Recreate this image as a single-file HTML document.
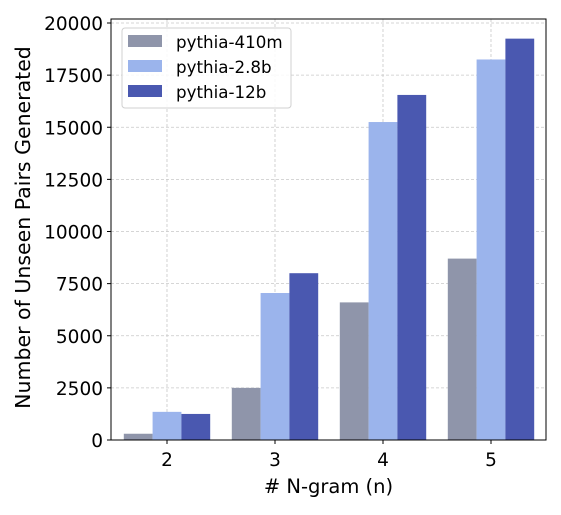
<!DOCTYPE html>
<html><head><meta charset="utf-8"><style>
body{margin:0;background:#fff}
svg text{font-family:"DejaVu Sans","Liberation Sans",sans-serif;fill:#000}
</style></head><body>
<svg width="561" height="510" id="chart"></svg>
<script>
const categories=["2","3","4","5"];
const seriesNames=["pythia-410m","pythia-2.8b","pythia-12b"];
const s410m=[300,2500,6600,8700];
const s28b=[1350,7050,15250,18250];
const s12b=[1250,8000,16550,19250];
const yTicks=[0,2500,5000,7500,10000,12500,15000,17500,20000];
const colors=["#8f95aa","#9bb4ec","#4a58b0"];
const series=[s410m,s28b,s12b];
const L=111,R=546,T=19,B=440;
const y=v=>440-v*(417/20000);
const x=i=>167+i*108;
const bw=28.8;
const svg=document.getElementById('chart');
const NS="http://www.w3.org/2000/svg";
function mk(t,a,p){const e=document.createElementNS(NS,t);for(const k in a)e.setAttribute(k,a[k]);(p||svg).appendChild(e);return e;}
yTicks.forEach(v=>{
 const g=mk('line',{x1:L,x2:R,y1:y(v),y2:y(v),stroke:'#c8c8c8','stroke-dasharray':'3,2','stroke-width':0.8});
 
 
 const tk=mk('line',{x1:L-4,x2:L,y1:y(v),y2:y(v),stroke:'#000'});
 
 
 const t=mk('text',{x:L-8,y:y(v)+7,'text-anchor':'end','font-size':18.5});
 t.textContent=v;
 
 
});
categories.forEach((c,i)=>{
 const g=mk('line',{x1:x(i),x2:x(i),y1:T,y2:B,stroke:'#c8c8c8','stroke-dasharray':'3,2','stroke-width':0.8});
 
 
});
series.forEach((s,j)=>{
 s.forEach((v,i)=>{
  const r=mk('rect',{x:x(i)+(j-1.5)*bw,y:y(v),width:bw,height:B-y(v),fill:colors[j]});
  
  
 });
});
categories.forEach((c,i)=>{
 const tk=mk('line',{x1:x(i),x2:x(i),y1:B,y2:B+4,stroke:'#000'});
 
 
 const t=mk('text',{x:x(i),y:B+26,'text-anchor':'middle','font-size':18.5});
 t.textContent=c;
 
 
});
const fr=mk('rect',{x:L,y:T,width:R-L,height:B-T,fill:'none',stroke:'#000','stroke-width':1});


const xt=mk('text',{x:(L+R)/2,y:493,'text-anchor':'middle','font-size':19.5});
xt.textContent='# N-gram (n)';


const yt=mk('text',{x:0,y:0,'text-anchor':'middle','font-size':20.5,transform:'translate(30,'+((T+B)/2-2)+') rotate(-90)'});
yt.textContent='Number of Unseen Pairs Generated';


const lg=mk('g',{});


mk('rect',{x:122,y:28,width:169,height:80,rx:3,fill:'#fff','fill-opacity':0.85,stroke:'#d0d0d0'},lg);
seriesNames.forEach((n,j)=>{
 const sw=mk('rect',{x:128,y:35+j*25,width:34,height:12,fill:colors[j]},lg);
 
 
 const t=mk('text',{x:176,y:48+j*25,'font-size':16.7},lg);
 t.textContent=n;
 
 
});
</script>
</body></html>
